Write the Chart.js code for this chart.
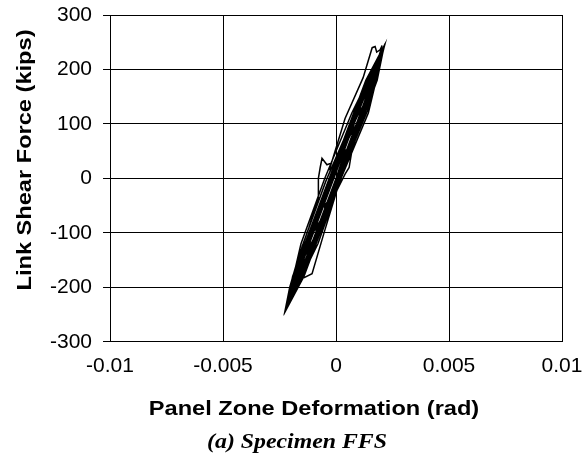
<!DOCTYPE html>
<html>
<head>
<meta charset="utf-8">
<script src="https://cdn.jsdelivr.net/npm/chart.js@4/dist/chart.umd.min.js"></script>
<style>
  html, body { margin: 0; padding: 0; background: #fff; }
  #wrap { width: 586px; height: 459px; position: relative; }
</style>
</head>
<body>
<div id="wrap"><canvas id="myChart"></canvas></div>
<script>
// panel zone deformation (rad) vs link shear force (kips)
const deformation = [
  0,
  0.0004, 0.00038, 0.00015, -0.00008, -0.0005, -0.00048, -0.00025, -0.00002,
  0.00076, 0.00056, 0.00015, -0.00026, -0.00086, -0.00066, -0.00025, 0.00016,
  0.00112, 0.00074, 0.00015, -0.00044, -0.00122, -0.00084, -0.00025, 0.00034,
  0.00144, 0.00089, 0.00015, -0.00059, -0.00154, -0.00099, -0.00025, 0.00049,
  0.0017, 0.00102, 0.00015, -0.00072, -0.0018, -0.00112, -0.00025, 0.00062,
  0.00175, 0.00095, 0.00005, -0.00085, -0.00185, -0.00105, -0.00015, 0.00075,
  0.00193, 0.00114, 0.00015, -0.00084, -0.00203, -0.00124, -0.00025, 0.00074,
  0.00198, 0.00111, 0.0001, -0.00091, -0.00208, -0.00121, -0.0002, 0.00081,
  0.00207, 0.00122, 0.00012, -0.00092, -0.00214, -0.00132, -0.00028, 0.00082,
  0.00211, 0.00113, 0.00005, -0.00103, -0.00221, -0.00123, -0.00015, 0.00093,
  0.00213, 0.00108, 0, -0.00108, -0.00219, -0.00118, -0.0001, 0.00098,
  0.00215, 0.00126, 0.00015, -0.00098, -0.00224, -0.00136, -0.00025, 0.00086,
  0.00214, 0.00143, 0.00022, -0.0008, -0.00222, -0.00155, -0.0005, 0.0007,
  0.0021, 0.0014, 0.0002, -0.0009, -0.0022, -0.0015, -0.00045, 0.0008,
  0.00214, 0.00169, 0.00061, -0.00047, -0.00155, -0.00222, -0.00179, -0.00071, 0.00037, 0.00145,
  0.00212, 0.00182, 0.00074, -0.00034, -0.00142, -0.00223, -0.00192, -0.00084, 0.00024, 0.00132,
  0.00216, 0.00175, 0.00067, -0.00041, -0.00149, -0.0022, -0.00185, -0.00077, 0.00031, 0.00139,
  0.00217, 0.00135, 0.0007, 0.00058, 0.0004, 0.00004, -0.00053, -0.00106,
  -0.00146, -0.00138, -0.00164, -0.00226,
  -0.00205, -0.0017, -0.0012, -0.00078, -0.00078, -0.0007, -0.00062, -0.0004,
  -0.00022, -0.0003, 0.0004, 0.0012, 0.0016, 0.00173, 0.0018, 0.00195, 0.00204,
  0.0013, 0.0004, 0
]
const shearForce = [
  0,
  50, 25, 0, -25, -50, -25, 0, 25,
  90, 45, 0, -45, -90, -45, 0, 45,
  130, 65, 0, -65, -130, -65, 0, 65,
  165, 82, 0, -82, -165, -82, 0, 82,
  195, 97, 0, -97, -195, -97, 0, 97,
  200, 100, 0, -100, -200, -100, 0, 100,
  220, 110, 0, -110, -220, -110, 0, 110,
  225, 112, 0, -112, -225, -112, 0, 112,
  236, 118, 0, -118, -232, -118, 0, 118,
  240, 120, 0, -120, -240, -120, 0, 120,
  242, 120, 0, -120, -238, -120, 0, 120,
  245, 125, 0, -125, -242, -125, 0, 120,
  243, 120, 0, -120, -240, -120, 0, 120,
  238, 125, 5, -110, -236, -125, -5, 115,
  244, 180, 60, -60, -180, -240, -180, -60, 60, 180,
  241, 180, 60, -60, -180, -243, -180, -60, 60, 180,
  246, 180, 60, -60, -180, -238, -180, -60, 60, 180,
  247, 140, 50, 20, 8, -22, -100, -175,
  -183, -176, -195, -244,
  -200, -150, -90, -35, 0, 20, 37, 25,
  28, 15, 110, 185, 240, 242, 232, 236, 244,
  140, 30, 0
]

const xTicks = [-0.01, -0.005, 0, 0.005, 0.01]
const yTicks = [-300, -200, -100, 0, 100, 200, 300]

const xTitle = 'Panel Zone Deformation (rad)'
const yTitle = 'Link Shear Force (kips)'
const caption = '(a) Specimen FFS'

const points = deformation.map((x, i) => ({x: x, y: shearForce[i]}))

const tickFont = { family: "'Liberation Sans', Arial, sans-serif", size: 21 }

// titles are wide and sit off the axis centres in the original, so draw them by hand
function wideText(ctx, text, x, y, font, stretch) {
  ctx.save()
  ctx.translate(x, y)
  ctx.scale(stretch, 1)
  ctx.font = font
  ctx.fillText(text, 0, 0)
  ctx.restore()
}

const titlesPlugin = {
  id: 'titles',
  afterDraw(chart) {
    const ctx = chart.ctx
    ctx.save()
    ctx.fillStyle = '#000'
    ctx.textAlign = 'center'
    ctx.textBaseline = 'alphabetic'
    wideText(ctx, xTitle, 314, 415, "bold 20px 'Liberation Sans', Arial, sans-serif", 1.18)
    wideText(ctx, caption, 297, 448, "italic bold 20px 'Liberation Serif', 'Times New Roman', serif", 1.19)
    ctx.translate(31, 160)
    ctx.rotate(-Math.PI / 2)
    wideText(ctx, yTitle, 0, 0, "bold 20px 'Liberation Sans', Arial, sans-serif", 1.18)
    ctx.restore()
  }
}

// let the layout padding alone decide where the plot box sits
const noOverflow = axis => {
  axis.paddingLeft = 0
  axis.paddingRight = 0
  axis.paddingTop = 0
  axis.paddingBottom = 0
}

const config = {
  type: 'scatter',
  data: {
    datasets: [{
      data: points,
      showLine: true,
      borderColor: '#000',
      borderWidth: 1.5,
      pointRadius: 0,
      pointHoverRadius: 0,
      tension: 0,
      fill: false
    }]
  },
  options: {
    responsive: true,
    maintainAspectRatio: false,
    animation: false,
    layout: {
      padding: { left: 39, right: 24, top: 15, bottom: 68 }
    },
    scales: {
      x: {
        type: 'linear',
        min: -0.01,
        max: 0.01,
        afterBuildTicks: axis => { axis.ticks = xTicks.map(v => ({value: v})) },
        afterFit: noOverflow,
        ticks: {
          color: '#000',
          font: tickFont,
          padding: 12,
          maxRotation: 0,
          callback: v => String(Number(v.toFixed(4)))
        },
        grid: { color: '#000', lineWidth: 1, drawTicks: false },
        border: { color: '#000', width: 1 }
      },
      y: {
        type: 'linear',
        min: -300,
        max: 300,
        afterBuildTicks: axis => { axis.ticks = yTicks.map(v => ({value: v})) },
        afterFit: noOverflow,
        ticks: {
          color: '#000',
          font: tickFont,
          padding: 11
        },
        grid: { color: '#000', lineWidth: 1, tickLength: 7 },
        border: { color: '#000', width: 1 }
      }
    },
    plugins: {
      legend: { display: false },
      tooltip: { enabled: false }
    }
  },
  plugins: [titlesPlugin]
}

const myChart = new Chart(document.getElementById('myChart'), config)
</script>
</body>
</html>
